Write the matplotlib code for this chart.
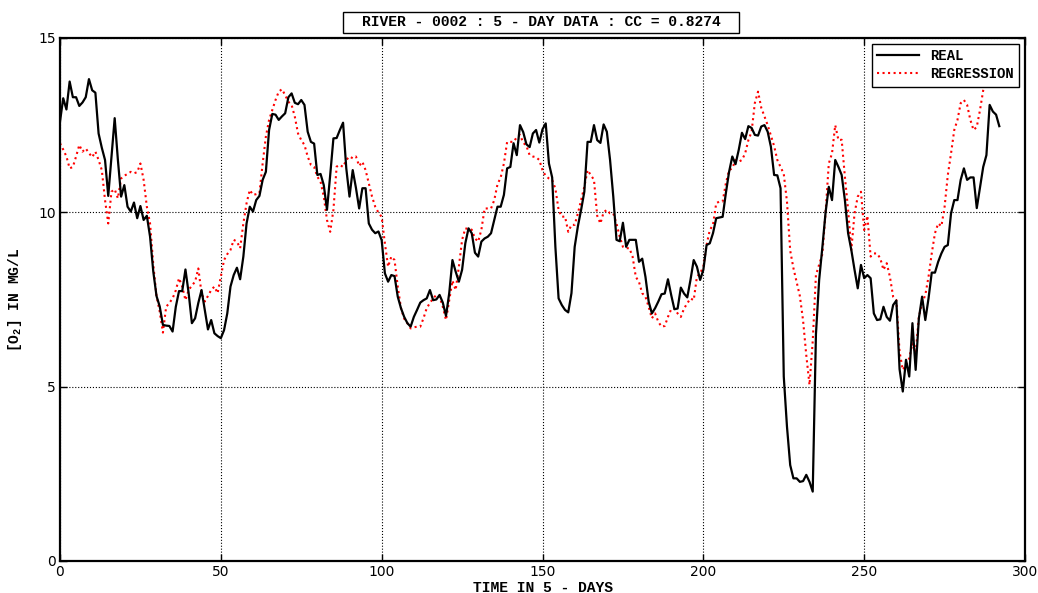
import numpy as np
import matplotlib
matplotlib.use("Agg")
import matplotlib.pyplot as plt
from matplotlib.patches import Rectangle

# measured dissolved oxygen, one value per 5-day step (0..292)
real = [
    12.6, 13.27, 12.95, 13.75, 13.3, 13.3, 13.05, 13.15, 13.3, 13.82,
    13.5, 13.43, 12.26, 11.85, 11.5, 10.47, 11.6, 12.7, 11.5, 10.45,
    10.78, 10.16, 10.02, 10.28, 9.83, 10.18, 9.78, 9.9, 9.3, 8.3,
    7.6, 7.3, 6.77, 6.75, 6.74, 6.58, 7.29, 7.74, 7.74, 8.36,
    7.68, 6.82, 6.96, 7.4, 7.77, 7.2, 6.64, 6.91, 6.53, 6.45,
    6.39, 6.62, 7.1, 7.87, 8.2, 8.41, 8.08, 8.73, 9.68, 10.16,
    10.02, 10.35, 10.47, 10.93, 11.16, 12.36, 12.82, 12.8, 12.65, 12.75,
    12.84, 13.3, 13.41, 13.14, 13.1, 13.22, 13.08, 12.31, 12.02, 11.97,
    11.07, 11.1, 10.78, 10.07, 11.07, 12.12, 12.13, 12.36, 12.57, 11.26,
    10.45, 11.21, 10.7, 10.11, 10.69, 10.69, 9.68, 9.5, 9.4, 9.45,
    9.2, 8.25, 8.01, 8.2, 8.17, 7.58, 7.25, 7.0, 6.82, 6.72,
    7.0, 7.2, 7.41, 7.48, 7.53, 7.77, 7.48, 7.5, 7.63, 7.41,
    7.03, 7.68, 8.63, 8.3, 8.01, 8.35, 9.11, 9.54, 9.4, 8.84,
    8.73, 9.16, 9.25, 9.3, 9.4, 9.78, 10.16, 10.16, 10.5, 11.26,
    11.3, 11.98, 11.64, 12.5, 12.3, 11.95, 11.87, 12.26, 12.36, 12.0,
    12.38, 12.55, 11.4, 11.0, 9.01, 7.53, 7.34, 7.2, 7.13, 7.68,
    9.01, 9.6, 10.07, 10.59, 12.02, 12.02, 12.5, 12.07, 11.99, 12.52,
    12.31, 11.5, 10.45, 9.21, 9.17, 9.7, 9.01, 9.21, 9.21, 9.21,
    8.58, 8.67, 8.15, 7.44, 7.1, 7.25, 7.44, 7.65, 7.67, 8.08,
    7.63, 7.22, 7.24, 7.84, 7.67, 7.56, 8.06, 8.63, 8.44, 8.06,
    8.35, 9.06, 9.11, 9.4, 9.83, 9.85, 9.87, 10.55, 11.16, 11.6,
    11.38, 11.79, 12.28, 12.1, 12.47, 12.42, 12.22, 12.2, 12.46, 12.5,
    12.31, 11.88, 11.07, 11.06, 10.69, 5.29, 3.85, 2.75, 2.37, 2.37,
    2.27, 2.29, 2.47, 2.27, 1.99, 6.5, 8.06, 9.0, 10.0, 10.73,
    10.35, 11.5, 11.3, 11.07, 10.35, 9.4, 8.92, 8.35, 7.82, 8.49,
    8.11, 8.2, 8.11, 7.1, 6.91, 6.93, 7.29, 7.0, 6.89, 7.34,
    7.47, 5.5, 4.86, 5.77, 5.29, 6.82, 5.48, 6.96, 7.58, 6.91,
    7.53, 8.27, 8.27, 8.58, 8.82, 9.01, 9.06, 9.97, 10.35, 10.35,
    10.93, 11.26, 10.93, 11.0, 11.0, 10.12, 10.7, 11.3, 11.64, 13.08,
    12.89, 12.8, 12.47,
]

# regression estimate (0..288, last points run under the legend)
regression = [
    11.98, 11.8, 11.6, 11.26, 11.3, 11.6, 11.93, 11.74, 11.83, 11.7,
    11.58, 11.74, 11.5, 11.21, 10.35, 9.68, 10.59, 10.66, 10.4, 10.97,
    11.05, 11.1, 11.16, 11.12, 11.15, 11.4, 10.93, 10.16, 9.68, 8.5,
    7.6, 7.15, 6.55, 7.29, 7.4, 7.53, 7.76, 8.11, 7.87, 7.48,
    7.77, 7.9, 8.01, 8.39, 7.68, 7.44, 7.6, 7.77, 7.87, 7.68,
    8.15, 8.63, 8.8, 8.92, 9.21, 9.16, 8.97, 9.68, 10.26, 10.64,
    10.5, 10.52, 10.55, 11.4, 12.17, 12.65, 12.93, 13.22, 13.46, 13.53,
    13.36, 13.17, 13.08, 12.74, 12.26, 12.07, 11.93, 11.6, 11.36, 11.3,
    11.02, 10.88, 10.45, 9.78, 9.44, 10.07, 11.31, 11.36, 11.3, 11.5,
    11.6, 11.55, 11.6, 11.33, 11.45, 11.21, 10.83, 10.45, 10.16, 9.99,
    9.87, 9.11, 8.44, 8.73, 8.63, 7.87, 7.25, 6.95, 6.82, 6.67,
    6.7, 6.72, 6.72, 6.96, 7.25, 7.4, 7.53, 7.63, 7.58, 7.29,
    6.91, 7.48, 8.04, 7.77, 8.44, 9.21, 9.54, 9.52, 9.5, 9.25,
    9.16, 9.5, 10.11, 10.11, 10.11, 10.35, 10.8, 11.0, 11.4, 12.02,
    12.02, 12.02, 12.15, 12.22, 12.0, 11.9, 11.64, 11.6, 11.58, 11.5,
    11.21, 11.04, 10.97, 10.93, 10.68, 10.07, 9.87, 9.88, 9.44, 9.64,
    9.64, 9.97, 10.35, 10.73, 11.21, 11.07, 10.93, 9.9, 9.68, 10.0,
    10.07, 9.97, 9.97, 9.68, 9.3, 9.01, 8.97, 8.97, 8.73, 8.15,
    8.0, 7.68, 7.58, 7.29, 6.96, 7.1, 6.86, 6.72, 6.74, 7.0,
    7.22, 7.24, 7.1, 7.0, 7.24, 7.39, 7.53, 7.48, 8.15, 8.25,
    8.44, 9.06, 9.49, 9.64, 10.26, 10.31, 10.31, 10.83, 11.21, 11.26,
    11.5, 11.45, 11.5, 11.69, 12.07, 12.31, 13.13, 13.46, 13.0, 12.75,
    12.5, 12.2, 11.9, 11.5, 11.3, 11.1, 10.3, 8.9, 8.4, 8.0,
    7.6, 6.9, 5.9, 5.05, 6.3, 8.2, 8.5, 8.8, 10.0, 11.4,
    11.69, 12.5, 12.07, 12.08, 11.02, 10.07, 8.92, 9.97, 10.45, 10.59,
    9.49, 9.9, 8.73, 8.82, 8.82, 8.68, 8.35, 8.54, 8.15, 7.58,
    7.48, 6.0, 5.48, 5.62, 5.81, 6.24, 5.96, 7.0, 7.39, 7.63,
    8.15, 8.82, 9.4, 9.68, 9.6, 10.16, 11.07, 11.69, 12.36, 12.65,
    13.13, 13.22, 13.08, 12.65, 12.36, 12.45, 12.93, 13.5, 14.0,
]

t_real = np.arange(len(real))
t_reg = np.arange(len(regression))

x_ticks = [0, 50, 100, 150, 200, 250, 300]
y_ticks = [0, 5, 10, 15]

title = "RIVER - 0002 : 5 - DAY DATA : CC = 0.8274"

mono = "Liberation Mono"
plt.rcParams["font.family"] = "DejaVu Sans"
plt.rcParams["mathtext.default"] = "regular"

fig = plt.figure(figsize=(10.38, 5.93), dpi=100)
ax = fig.add_axes([0.0578, 0.054, 0.9297, 0.882])

ax.plot(t_real, real, color="black", lw=1.6, label="REAL", zorder=3)
ax.plot(t_reg, regression, color="red", lw=1.5, ls=":", label="REGRESSION", zorder=2)

ax.set_xlim(0, 300)
ax.set_ylim(0, 15)
ax.set_xticks(x_ticks)
ax.set_yticks(y_ticks)
ax.grid(True, color="black", ls=":", lw=0.8)
ax.tick_params(direction="in", top=True, right=True, length=5, width=1, labelsize=10, pad=3)
for s in ax.spines.values():
    s.set_linewidth(1.6)

ax.set_xlabel("TIME IN 5 - DAYS", family=mono, weight="bold", fontsize=10.5, labelpad=1)
ax.set_ylabel("[O$_2$] IN MG/L", family=mono, weight="bold", fontsize=10.5, labelpad=10)

# boxed title above the axes
fig.patches.append(Rectangle((343 / 1038, 1 - 33 / 593), 396 / 1038, 21 / 593,
                             transform=fig.transFigure, fc="white", ec="black", lw=1.0))
fig.text(541 / 1038, 1 - 22.5 / 593, title, ha="center", va="center",
         family=mono, weight="bold", fontsize=10.5)

leg = ax.legend(loc="upper right", prop=dict(family=mono, weight="bold", size=10),
                fancybox=False, framealpha=1, edgecolor="black", borderaxespad=0.4,
                handlelength=3.0, borderpad=0.4, labelspacing=0.3)
leg.get_frame().set_linewidth(1.0)
leg.set_zorder(5)

fig.savefig("out.png", dpi=100)
